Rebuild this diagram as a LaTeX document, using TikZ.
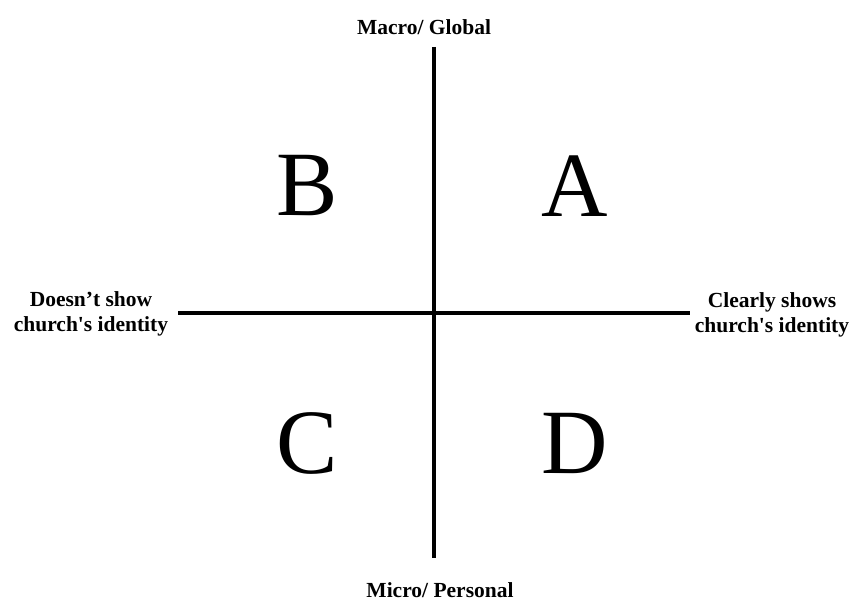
\documentclass[tikz,border=0pt]{standalone}
\usepackage{fontspec}
\setmainfont{Liberation Serif}
\newfontfamily\lblfont{Liberation Serif}[Ligatures=TeXOff]
\usetikzlibrary{positioning}

\tikzset{
  axisline/.style={line width=4pt},
  axislabel/.style={font=\lblfont\bfseries\fontsize{21.5}{25}\selectfont, align=center, inner sep=0pt},
  quadletter/.style={font=\fontsize{92}{92}\selectfont, inner sep=0pt}
}

\begin{document}
\begin{tikzpicture}[x=1pt, y=-1pt]
        \useasboundingbox (0,0) rectangle (854,601);

        \coordinate (top) at (434,47);
        \coordinate (bot) at (434,558);
        \coordinate (lft) at (178,313);
        \coordinate (rgt) at (690,313);

        \draw[axisline] (top) -- (bot);
        \draw[axisline] (lft) -- (rgt);

        \node[axislabel] (macro) at (424,27) {Macro/ Global};
        \node[axislabel] (micro) at (440,590) {Micro/ Personal};
        \node[axislabel] (notid) at (91,314) {Doesn’t show\\church's identity};
        \node[axislabel] (isid) at (772,315) {Clearly shows\\church's identity};

        \node[quadletter] (qb) at (307,186) {B};
        \node[quadletter] (qa) at (575,186) {A};
        \node[quadletter] (qc) at (307,443) {C};
        \node[quadletter] (qd) at (575,443) {D};
    \end{tikzpicture}
\end{document}
